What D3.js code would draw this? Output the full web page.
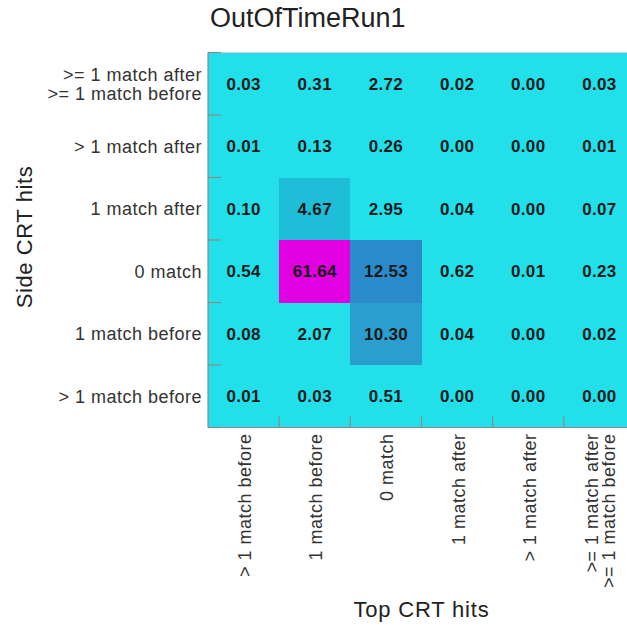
<!DOCTYPE html>
<html>
<head>
<meta charset="utf-8">
<script src="https://cdn.jsdelivr.net/npm/d3@7"></script>
<style>
  html, body { margin: 0; padding: 0; background: #fff; overflow: hidden; }
  text { font-family: 'Liberation Sans', Arial, Helvetica, sans-serif; }
</style>
</head>
<body>
<div id="container"></div>
<script>
const chartTitle = 'OutOfTimeRun1';
const xTitle = 'Top CRT hits';
const yTitle = 'Side CRT hits';

// top CRT categories, left to right
const topCats = ['> 1 match before', '1 match before', '0 match', '1 match after', '> 1 match after', '>= 1 match after\n>= 1 match before'];
// side CRT categories, top to bottom
const sideCats = ['>= 1 match after\n>= 1 match before', '> 1 match after', '1 match after', '0 match', '1 match before', '> 1 match before'];

// percentages, one row per side category (top to bottom)
const rowAfterBefore = [0.03, 0.31, 2.72, 0.02, 0.00, 0.03];
const rowMoreAfter = [0.01, 0.13, 0.26, 0.00, 0.00, 0.01];
const rowOneAfter = [0.10, 4.67, 2.95, 0.04, 0.00, 0.07];
const rowZero = [0.54, 61.64, 12.53, 0.62, 0.01, 0.23];
const rowOneBefore = [0.08, 2.07, 10.30, 0.04, 0.00, 0.02];
const rowMoreBefore = [0.01, 0.03, 0.51, 0.00, 0.00, 0.00];
const rows = [rowAfterBefore, rowMoreAfter, rowOneAfter, rowZero, rowOneBefore, rowMoreBefore];

const cells = [];
rows.forEach((row, i) => {
  row.forEach((v, j) => cells.push({ side: sideCats[i], top: topCats[j], value: v }));
});

const W = 627, H = 628;
const margin = { left: 208, top: 52.5, right: -8, bottom: 200.5 };
const plotW = W - margin.left - margin.right;
const plotH = H - margin.top - margin.bottom;

const svg = d3.select('#container').append('svg')
  .attr('width', W).attr('height', H);

const x = d3.scaleBand().domain(topCats).range([margin.left, margin.left + plotW]);
const y = d3.scaleBand().domain(sideCats).range([margin.top, margin.top + plotH]);

// ROOT-like palette with 20 discrete levels
const nLevels = 20;
const palette = d3.scaleLinear()
  .domain([0, 1 / 19, 3 / 19, 4 / 19, 1])
  .range(['#22e0ea', '#1ebed8', '#2a9ece', '#2a8aca', '#e000e0'])
  .interpolate(d3.interpolateRgb);
const color = d3.scaleQuantize()
  .domain([0, d3.max(cells, d => d.value)])
  .range(d3.range(nLevels).map(i => palette(i / (nLevels - 1))));

svg.append('g').selectAll('rect')
  .data(cells).enter()
  .append('rect')
  .attr('x', d => x(d.top))
  .attr('y', d => y(d.side))
  .attr('width', x.bandwidth())
  .attr('height', y.bandwidth())
  .attr('fill', d => color(d.value))
  .attr('shape-rendering', 'crispEdges');

svg.append('g').selectAll('text')
  .data(cells).enter()
  .append('text')
  .attr('x', d => x(d.top) + x.bandwidth() / 2)
  .attr('y', d => y(d.side) + y.bandwidth() / 2)
  .attr('dy', '0.36em')
  .attr('text-anchor', 'middle')
  .attr('font-size', 17)
  .attr('font-weight', 700)
  .attr('letter-spacing', 0.3)
  .attr('fill', '#1a1a1a')
  .text(d => d.value.toFixed(2));

// frame lines
const frame = svg.append('g').attr('stroke', '#8a8a8a').attr('stroke-width', 1.2).attr('fill', 'none');
frame.append('line').attr('x1', margin.left).attr('x2', margin.left).attr('y1', margin.top).attr('y2', margin.top + plotH);
frame.append('line').attr('x1', margin.left).attr('x2', W).attr('y1', margin.top + plotH).attr('y2', margin.top + plotH);
frame.append('line').attr('x1', margin.left).attr('x2', W).attr('y1', margin.top).attr('y2', margin.top).attr('stroke', '#cfcfcf');

// y ticks (inward) at bin edges
const yEdges = sideCats.map(c => y(c)).concat([margin.top + plotH]);
frame.selectAll('.ytick').data(yEdges).enter().append('line')
  .attr('x1', margin.left).attr('x2', margin.left + 13)
  .attr('y1', d => d).attr('y2', d => d);
const xEdges = topCats.map(c => x(c)).slice(1);
frame.selectAll('.xtick').data(xEdges).enter().append('line')
  .attr('x1', d => d).attr('x2', d => d)
  .attr('y1', margin.top + plotH).attr('y2', margin.top + plotH - 11);

// y tick labels
const lineH = 19;
svg.append('g').selectAll('text')
  .data(sideCats).enter()
  .append('text')
  .attr('text-anchor', 'end')
  .attr('font-size', 18)
  .attr('letter-spacing', 0.5)
  .attr('fill', '#333')
  .each(function (d) {
    const lines = d.split('\n');
    const cy = y(d) + y.bandwidth() / 2;
    d3.select(this).selectAll('tspan').data(lines).enter().append('tspan')
      .attr('x', margin.left - 6)
      .attr('y', (l, k) => cy + (k - (lines.length - 1) / 2) * lineH)
      .attr('dy', '0.36em')
      .text(l => l);
  });

// x tick labels (rotated)
svg.append('g').selectAll('text')
  .data(topCats).enter()
  .append('text')
  .attr('text-anchor', 'end')
  .attr('font-size', 18)
  .attr('letter-spacing', 0.5)
  .attr('fill', '#333')
  .each(function (d) {
    const lines = d.split('\n');
    const cx = x(d) + x.bandwidth() / 2 + 1;
    const ty = margin.top + plotH + 6;
    d3.select(this).attr('transform', `translate(${cx},${ty}) rotate(-90)`);
    d3.select(this).selectAll('tspan').data(lines).enter().append('tspan')
      .attr('x', 0)
      .attr('y', (l, k) => (k - (lines.length - 1) / 2) * 17)
      .attr('dy', '0.36em')
      .text(l => l);
  });

// titles
svg.append('text')
  .attr('x', margin.left + 2).attr('y', 27)
  .attr('font-size', 27)
  .attr('fill', '#222')
  .text(chartTitle);

svg.append('text')
  .attr('transform', `translate(32,${margin.top + plotH / 2 - 3}) rotate(-90)`)
  .attr('text-anchor', 'middle')
  .attr('font-size', 22)
  .attr('letter-spacing', 0.6)
  .attr('fill', '#222')
  .text(yTitle);

svg.append('text')
  .attr('x', margin.left + 3 * x.bandwidth())
  .attr('y', 617)
  .attr('text-anchor', 'middle')
  .attr('font-size', 22)
  .attr('letter-spacing', 0.8)
  .attr('fill', '#222')
  .text(xTitle);
</script>
</body>
</html>
